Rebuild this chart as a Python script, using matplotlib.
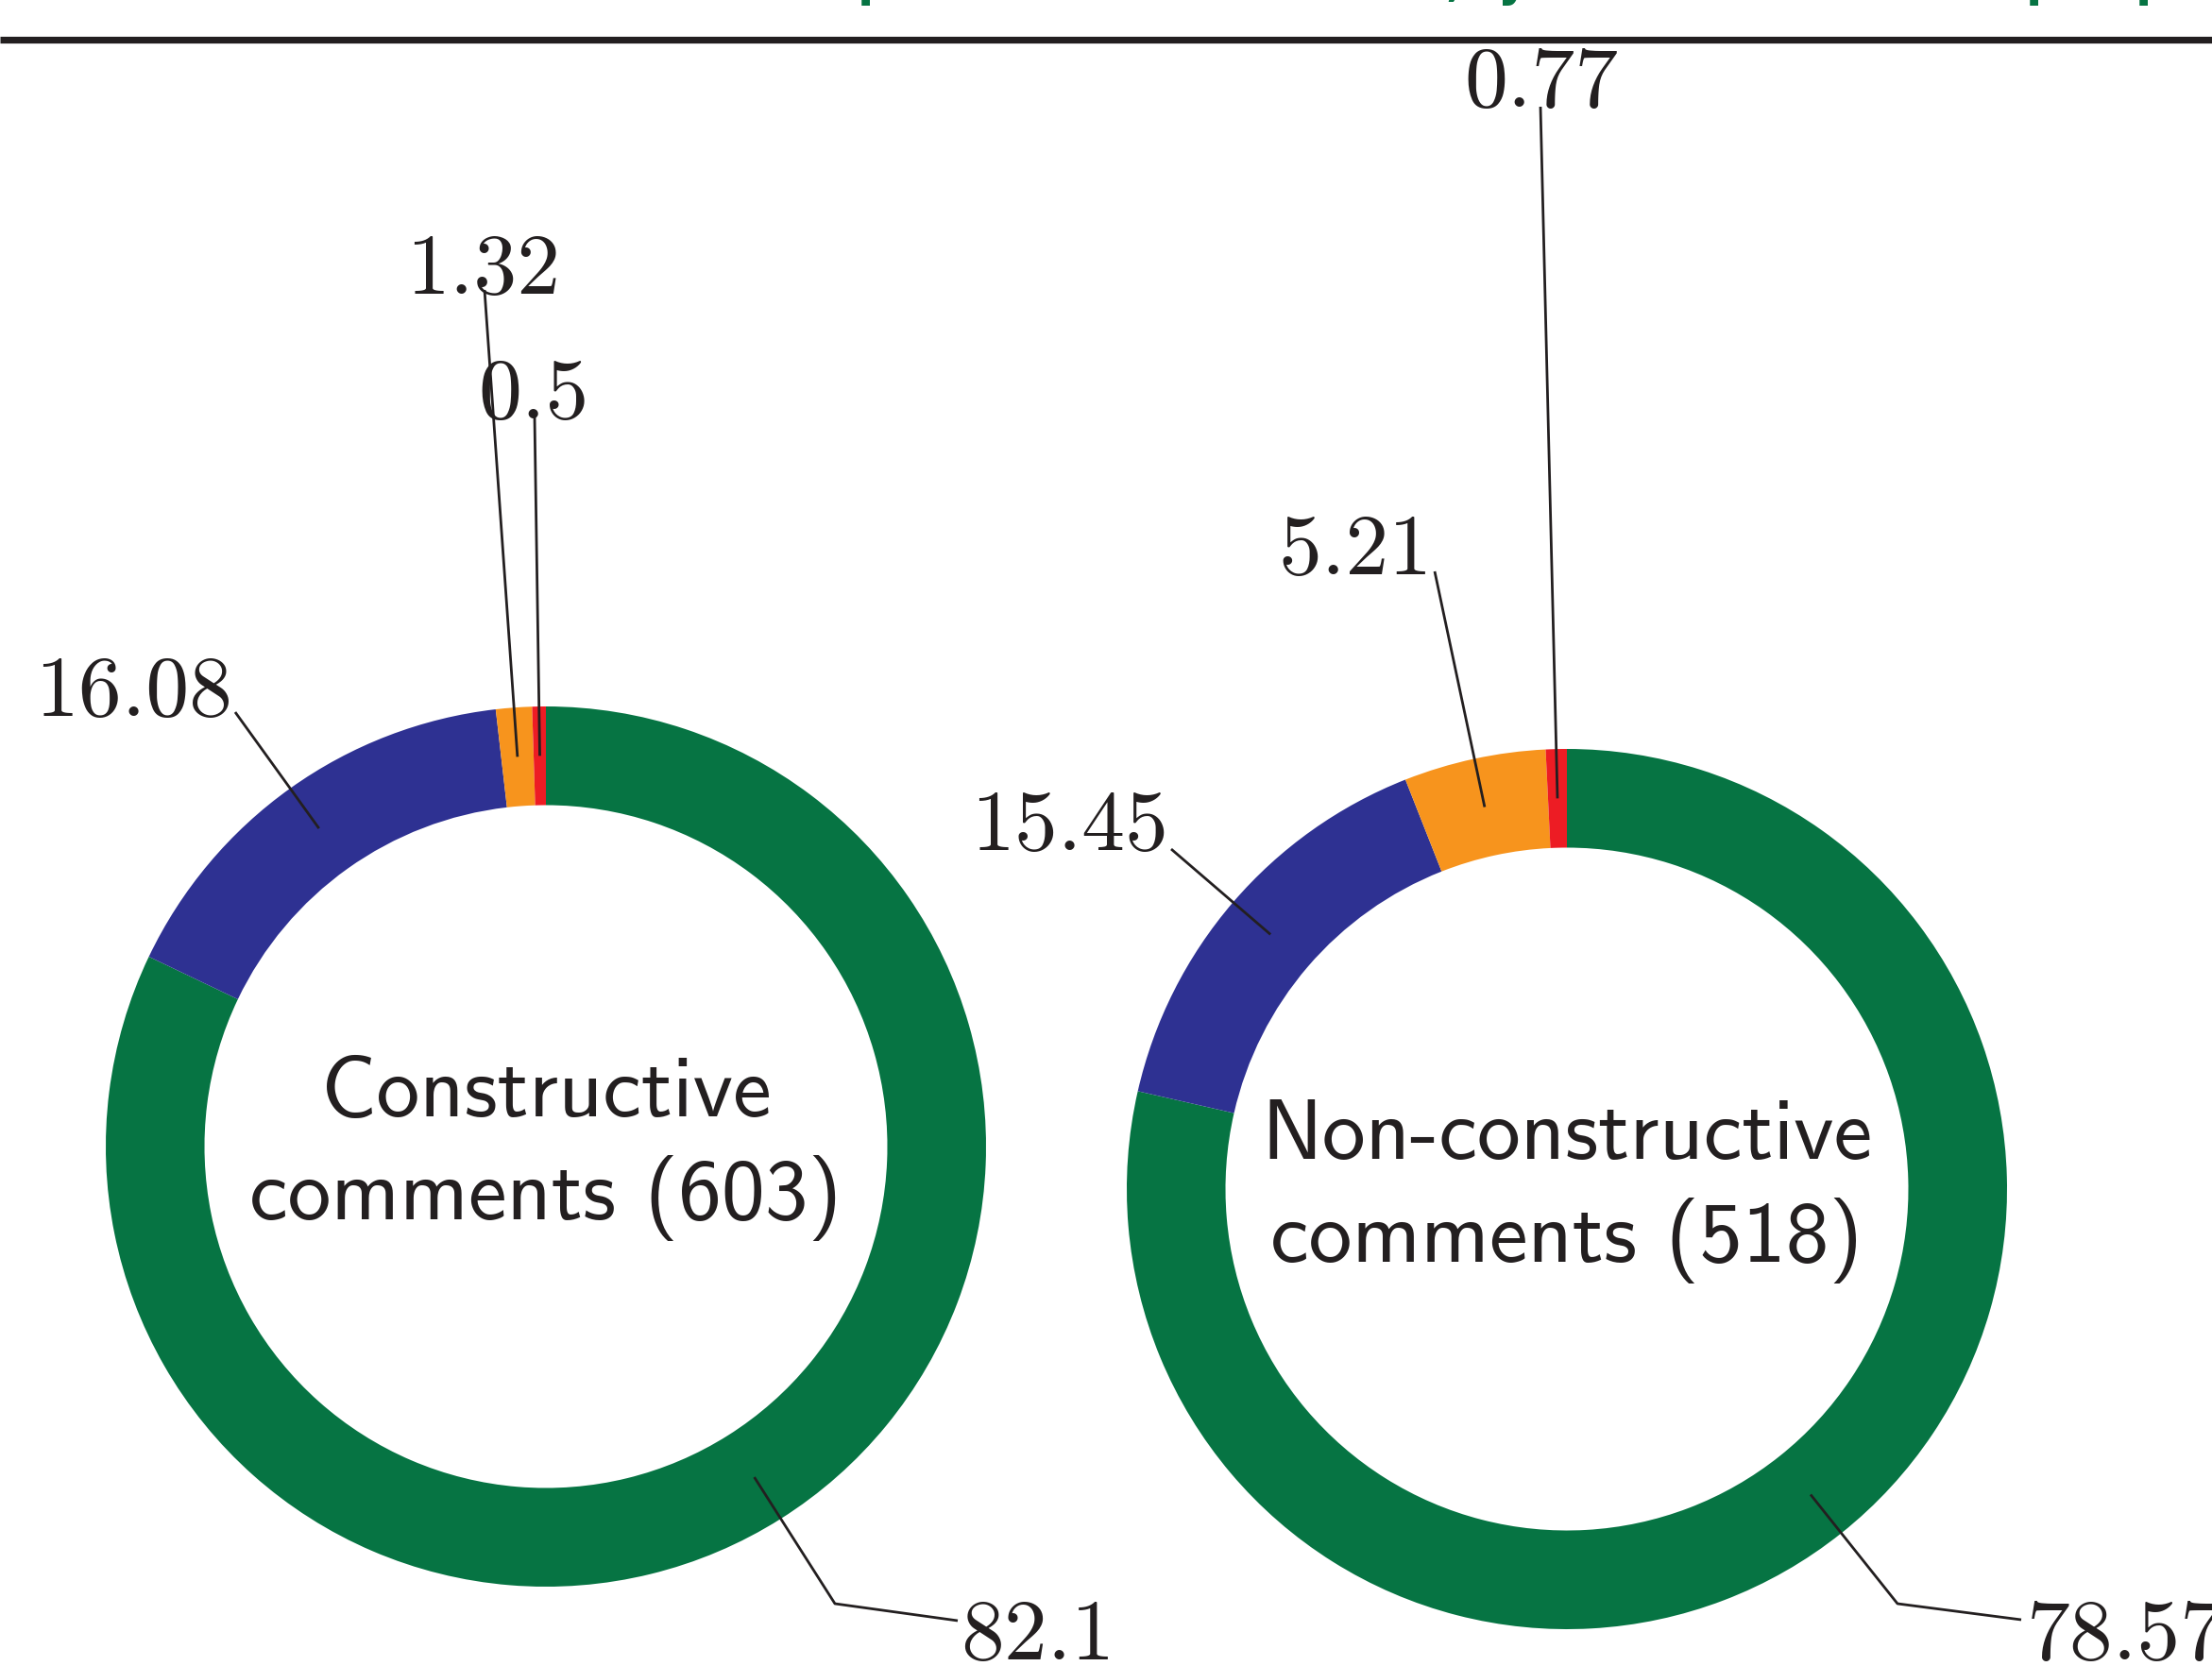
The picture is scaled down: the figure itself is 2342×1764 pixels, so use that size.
import matplotlib
matplotlib.use("Agg")
import matplotlib.pyplot as plt
import numpy as np

W, H = 2342, 1764

# ---- data ----
categories = ["Agree", "Partly", "Other", "Disagree"]
constructive_vals = [82.1, 16.08, 1.32, 0.5]
nonconstructive_vals = [78.57, 15.45, 5.21, 0.77]
chart_titles = ["Constructive\ncomments (603)", "Non-constructive\ncomments (518)"]
colors = ["#067443", "#2e3192", "#f7941d", "#ed1c24"]

TXT = "#231f20"

# layout (pixel coords, y measured downward from top)
centers = [(578, 1214), (1659, 1259)]
R_OUT, R_W = 466, 104.5

# per-label layout: (text x, text baseline y, ha, leader end (x, y), elbow or None)
label_layouts = [
    [((1017, 1757), "left", (1014, 1716), (884, 1698)),
     ((246, 758), "right", (249, 754), None),
     ((512, 311), "center", (513, 307), None),
     ((565, 443), "center", (566, 441), None)],
    [((2146, 1757), "left", (2140, 1715), (2009, 1698)),
     ((1237, 900), "right", (1240, 899), None),
     ((1516, 608), "right", (1519, 605), None),
     ((1632, 113), "center", (1631, 113), None)],
]


def Y(y):
    return H - y


fig = plt.figure(figsize=(W / 100, H / 100), dpi=100)
ax = fig.add_axes([0, 0, 1, 1])

for ci, vals in enumerate([constructive_vals, nonconstructive_vals]):
    cx, cy = centers[ci]
    ax.pie(vals, colors=colors, startangle=90, counterclock=False,
           radius=R_OUT, center=(cx, Y(cy)),
           wedgeprops=dict(width=R_W, linewidth=0))
    cum = 0.0
    rmid = R_OUT - R_W / 2
    for v, lay in zip(vals, label_layouts[ci]):
        (tx, ty), ha, (ex, ey), elbow = lay
        th = np.deg2rad(90 - 360 * (cum + v / 2) / 100)
        cum += v
        px, py = cx + rmid * np.cos(th), Y(cy) + rmid * np.sin(th)
        xs, ys = [px], [py]
        if elbow is not None:
            xs.append(elbow[0]); ys.append(Y(elbow[1]))
        xs.append(ex); ys.append(Y(ey))
        ax.plot(xs, ys, color=TXT, lw=2.0, solid_capstyle="butt", zorder=5)
        ax.text(tx, Y(ty), f"{v:g}", ha=ha, va="baseline", fontsize=66,
                family="cmr10", color=TXT, zorder=6, clip_on=False)
    # centre text
    l1, l2 = chart_titles[ci].split("\n")
    ax.text(cx, Y(cy - 32), l1, ha="center", va="baseline", fontsize=66,
            family="cmss10", color=TXT)
    ax.text(cx, Y(cy + 77), l2, ha="center", va="baseline", fontsize=66,
            family="cmss10", color=TXT)

# top rule
ax.plot([0, W], [Y(41.5), Y(41.5)], color=TXT, lw=5.2, solid_capstyle="butt",
        clip_on=False)

# cut-off heading (only descenders remain visible)
for gx, gch in [(908, "p"), (1530, ","), (1585, "y"), (2145, "p"), (2261, "p")]:
    ax.text(gx, Y(-4.5), gch, ha="left", va="baseline", fontsize=36,
            fontweight="bold", color="#067443", clip_on=False)

ax.set_xlim(0, W)
ax.set_ylim(0, H)
ax.set_aspect("equal")
ax.axis("off")

fig.savefig("out.png", dpi=100, facecolor="white")
